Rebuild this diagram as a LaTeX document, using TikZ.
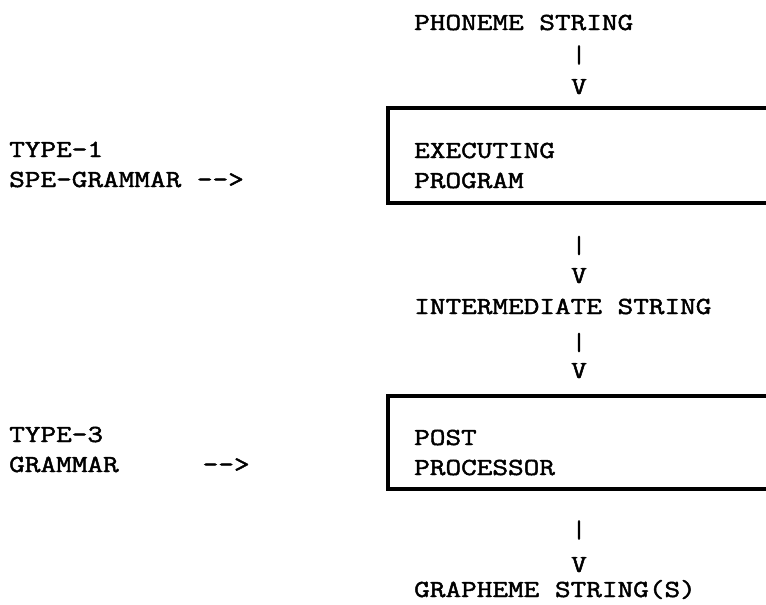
\documentclass[tikz,border=0pt]{standalone}
\usepackage{fontspec}
\setmainfont{Latin Modern Mono}[Ligatures=TeXOff,FakeStretch=1.24,FakeBold=1.9]
\begin{document}
\begin{tikzpicture}[x=1pt,y=-1pt,
  txt/.style={anchor=base west,inner sep=0pt,font=\fontsize{24.5}{28}\selectfont},
  glyph/.style={anchor=base,inner sep=0pt,font=\fontsize{24.5}{28}\selectfont},
  bar/.style={anchor=center,inner sep=0pt,font=\fontsize{24.5}{28}\selectfont},
  boxline/.style={line width=4pt,line cap=rect}]
\useasboundingbox (0,0) rectangle (766,605);
% top chain
\node[txt] (phon) at (414,30) {PHONEME STRING};
\node[bar] (b1) at (579,55) {|};
\node[glyph] (v1) at (579,94) {V};
% box 1
\draw[boxline] (766,108) -- (388,108) -- (388,203) -- (766,203);
\node[txt] (exe) at (414,158) {EXECUTING};
\node[txt] (prog) at (414,188) {PROGRAM};
\node[txt] (t1) at (9,157) {TYPE-1};
\node[txt] (spe) at (9,187) {SPE-GRAMMAR -->};
% middle
\node[bar] (b2) at (579,245.5) {|};
\node[glyph] (v2) at (579,283) {V};
\node[txt] (inter) at (414,314) {INTERMEDIATE STRING};
\node[bar] (b3) at (579,342.5) {|};
\node[glyph] (v3) at (579,378) {V};
% box 2
\draw[boxline] (766,396) -- (388,396) -- (388,489) -- (766,489);
\node[txt] (post) at (414,445) {POST};
\node[txt] (proc) at (414,475) {PROCESSOR};
\node[txt] (t3) at (9,442) {TYPE-3};
\node[txt] (gram) at (9,472) {GRAMMAR};
\node[txt] (arr3) at (202.5,472) {-->};
% bottom
\node[bar] (b4) at (579,530) {|};
\node[glyph] (v4) at (579,572) {V};
\node[txt] (graph) at (414,597) {GRAPHEME STRING(S)};
\end{tikzpicture}
\end{document}
